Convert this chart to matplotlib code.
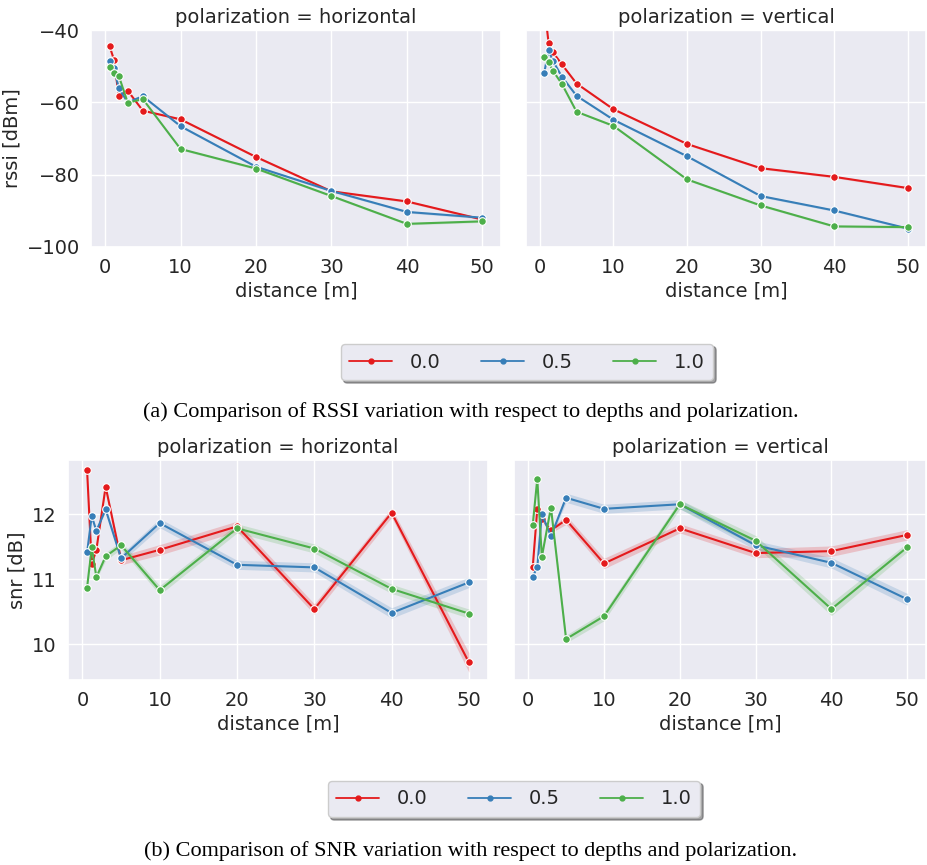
import matplotlib
matplotlib.use("Agg")
import matplotlib.pyplot as plt
import seaborn as sns
import numpy as np
from matplotlib.lines import Line2D

sns.set_theme(style="darkgrid")
plt.rcParams['font.family'] = ['DejaVu Sans']

distance = [0.6, 1.2, 1.8, 3, 5, 10, 20, 30, 40, 50]
depths = ["0.0", "0.5", "1.0"]
colors = ["#e41a1c", "#377eb8", "#4daf4a"]

# RSSI [dBm]
rssi_h = {
    "0.0": [-44.5, -48.4, -58.3, -56.8, -62.3, -64.7, -75.1, -84.6, -87.4, -92.4],
    "0.5": [-48.6, -50.4, -56.1, -60.0, -58.3, -66.6, -77.8, -84.5, -90.3, -91.9],
    "1.0": [-50.2, -51.8, -52.6, -60.1, -59.1, -72.9, -78.3, -85.9, -93.6, -92.9],
}
rssi_v = {
    "0.0": [-33.0, -43.6, -46.2, -49.5, -54.8, -61.9, -71.5, -78.2, -80.6, -83.7],
    "0.5": [-51.9, -45.6, -48.6, -52.9, -58.2, -64.8, -74.9, -85.9, -89.9, -94.9],
    "1.0": [-47.5, -48.9, -51.3, -54.9, -62.6, -66.5, -81.3, -88.5, -94.3, -94.5],
}
rssi_ci = [0.0, 0.0, 0.0, 0.1, 0.2, 0.3, 0.3, 0.3, 0.3, 0.3]

# SNR [dB]
snr_h = {
    "0.0": [12.67, 11.23, 11.45, 12.42, 11.29, 11.45, 11.81, 10.54, 12.02, 9.72],
    "0.5": [11.41, 11.97, 11.74, 12.07, 11.32, 11.86, 11.22, 11.18, 10.48, 10.95],
    "1.0": [10.87, 11.49, 11.03, 11.35, 11.52, 10.83, 11.78, 11.47, 10.85, 10.47],
}
snr_v = {
    "0.0": [11.18, 12.08, 11.92, 11.75, 11.91, 11.24, 11.78, 11.40, 11.43, 11.68],
    "0.5": [11.04, 11.18, 12.00, 11.66, 12.25, 12.08, 12.15, 11.52, 11.25, 10.69],
    "1.0": [11.83, 12.54, 11.34, 12.10, 10.08, 10.43, 12.15, 11.59, 10.54, 11.49],
}
snr_ci_h = {
    "0.0": [0.0, 0.0, 0.0, 0.03, 0.07, 0.08, 0.08, 0.08, 0.07, 0.15],
    "0.5": [0.0, 0.0, 0.0, 0.03, 0.06, 0.07, 0.07, 0.07, 0.08, 0.08],
    "1.0": [0.0, 0.0, 0.03, 0.06, 0.06, 0.07, 0.07, 0.07, 0.07, 0.07],
}
snr_ci_v = {
    "0.0": [0.0, 0.0, 0.0, 0.04, 0.07, 0.08, 0.07, 0.07, 0.08, 0.08],
    "0.5": [0.0, 0.0, 0.0, 0.03, 0.07, 0.07, 0.07, 0.07, 0.08, 0.09],
    "1.0": [0.0, 0.0, 0.0, 0.03, 0.06, 0.07, 0.07, 0.08, 0.10, 0.07],
}

W, H = 928, 865
fig = plt.figure(figsize=(W / 100, H / 100), dpi=100)

def px_axes(left, top, right, bottom, **kw):
    return fig.add_axes([left / W, 1 - bottom / H, (right - left) / W, (bottom - top) / H], **kw)

FS = 14
ax_rh = px_axes(91, 30, 501, 247)
ax_rv = px_axes(526, 30, 926, 247, sharey=ax_rh)
ax_sh = px_axes(68, 460, 488, 680)
ax_sv = px_axes(514, 460, 926, 680, sharey=ax_sh)

def draw(ax, data, ci):
    for d, c in zip(depths, colors):
        y = np.array(data[d])
        e = np.array(ci[d]) if isinstance(ci, dict) else np.array(ci)
        ax.fill_between(distance, y - e, y + e, color=c, alpha=0.2, linewidth=0)
        ax.plot(distance, y, color=c, lw=1.5, marker="o", markersize=5.5,
                markeredgecolor="white", markeredgewidth=0.8)

draw(ax_rh, rssi_h, rssi_ci)
draw(ax_rv, rssi_v, rssi_ci)
draw(ax_sh, snr_h, snr_ci_h)
draw(ax_sv, snr_v, snr_ci_v)

for ax, t in [(ax_rh, "horizontal"), (ax_rv, "vertical"), (ax_sh, "horizontal"), (ax_sv, "vertical")]:
    ax.set_title(f"polarization = {t}", fontsize=FS, color="0.15", pad=5)
    ax.set_xlabel("distance [m]", fontsize=FS, color="0.15", labelpad=3)
    ax.set_xticks([0, 10, 20, 30, 40, 50])
    ax.tick_params(labelsize=FS, colors="0.15", pad=2)

ax_rh.set_ylim(-100, -40)
ax_rh.set_yticks([-40, -60, -80, -100])
ax_rh.set_ylabel("rssi [dBm]", fontsize=FS, color="0.15")
ax_sh.set_ylim(9.45, 12.83)
ax_sh.set_yticks([10, 11, 12])
ax_sh.set_ylabel("snr [dB]", fontsize=FS, color="0.15")
for ax in (ax_rv, ax_sv):
    ax.tick_params(labelleft=False)
    ax.set_ylabel("")

handles = [Line2D([], [], color=c, lw=1.3, marker="o", markersize=3.5, markeredgecolor=c)
           for c in colors]

def add_legend(cx, cy):
    leg = fig.legend(handles, depths, loc="center", bbox_to_anchor=(cx / W, 1 - cy / H),
                     ncol=3, fontsize=FS, frameon=True, shadow=True, fancybox=True,
                     handlelength=2.2, columnspacing=2.1, handletextpad=0.9,
                     borderpad=0.45)
    leg.get_frame().set_facecolor("#EAEAF2")
    leg.get_frame().set_edgecolor("0.8")
    for t in leg.get_texts():
        t.set_color("0.15")
    return leg

add_legend(527, 362)
add_legend(514, 799)

fig.text(471 / W, 1 - 412 / H,
         "(a) Comparison of RSSI variation with respect to depths and polarization.",
         ha="center", va="center", fontsize=16, family="Liberation Serif", color="black")
fig.text(471 / W, 1 - 851 / H,
         "(b) Comparison of SNR variation with respect to depths and polarization.",
         ha="center", va="center", fontsize=16, family="Liberation Serif", color="black")

fig.savefig("out.png", dpi=100)
